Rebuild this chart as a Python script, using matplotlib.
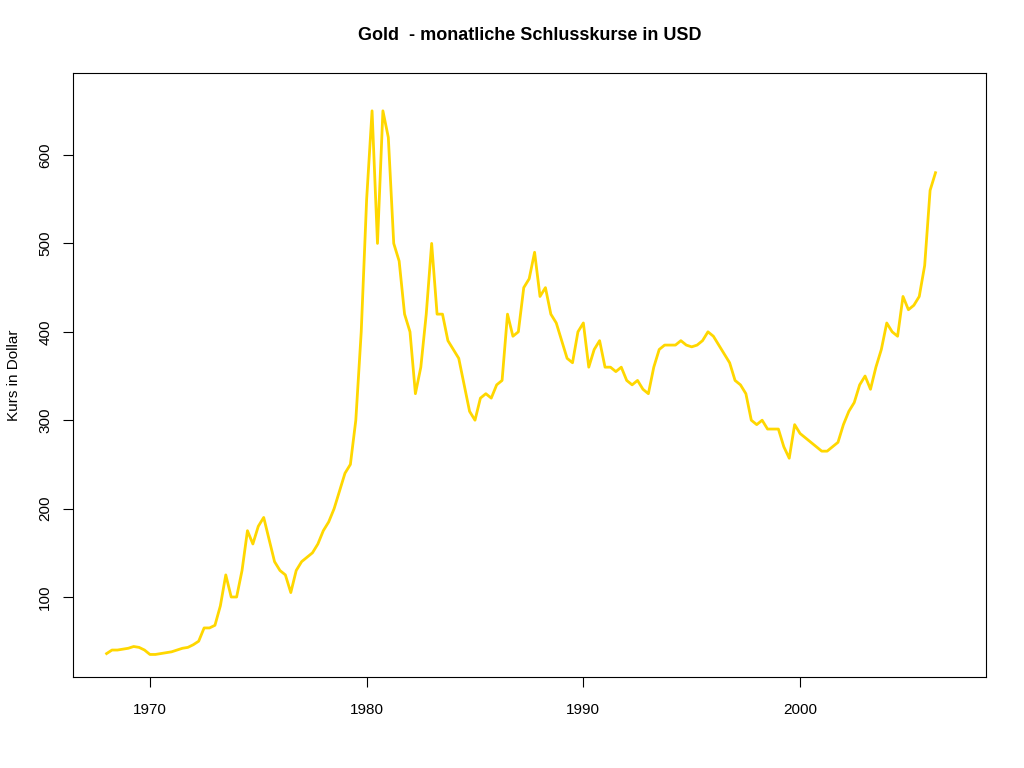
import matplotlib
matplotlib.use("Agg")
import matplotlib.pyplot as plt
import numpy as np

plt.rcParams['font.family'] = ['Liberation Sans', 'DejaVu Sans']

start_year = 1968.0
step = 0.25  # quarterly readings
prices = [
    36, 40, 40, 41,
    42, 44, 43, 40,
    35, 35, 36, 37,
    38, 40, 42, 43,
    46, 50, 65, 65,
    68, 90, 125, 100,
    100, 130, 175, 160,
    180, 190, 165, 140,
    130, 125, 105, 130,
    140, 145, 150, 160,
    175, 185, 200, 220,
    240, 250, 300, 400,
    550, 650, 500, 650,
    620, 500, 480, 420,
    400, 330, 360, 420,
    500, 420, 420, 390,
    380, 370, 340, 310,
    300, 325, 330, 325,
    340, 345, 420, 395,
    400, 450, 460, 490,
    440, 450, 420, 410,
    390, 370, 365, 400,
    410, 360, 380, 390,
    360, 360, 355, 360,
    345, 340, 345, 335,
    330, 360, 380, 385,
    385, 385, 390, 385,
    383, 385, 390, 400,
    395, 385, 375, 365,
    345, 340, 330, 300,
    295, 300, 290, 290,
    290, 270, 257, 295,
    285, 280, 275, 270,
    265, 265, 270, 275,
    295, 310, 320, 340,
    350, 335, 360, 380,
    410, 400, 395, 440,
    425, 430, 440, 475,
    560, 580,
]
years = start_year + step * np.arange(len(prices))

fig = plt.figure(figsize=(10.24, 7.68), dpi=100)
ax = fig.add_axes([73/1024, 1-677/768, (986-73)/1024, (677-73)/768])
ax.plot(years, prices, color='#FFD700', lw=2)
ax.set_xlim(1966.45, 2008.58)
ax.set_ylim(9.5, 692.8)
ax.set_xticks([1970, 1980, 1990, 2000])
ax.set_yticks([100, 200, 300, 400, 500, 600])
for lab in ax.get_yticklabels():
    lab.set_rotation(90)
    lab.set_va('center')
ax.tick_params(axis='x', labelsize=11, length=7, pad=12)
ax.tick_params(axis='y', labelsize=11, length=7, pad=8)
ax.set_ylabel('Kurs in Dollar', fontsize=11, labelpad=12)
ax.set_title('Gold  - monatliche Schlusskurse in USD', fontsize=13, fontweight='bold', pad=24)
fig.savefig('out.png', dpi=100)
